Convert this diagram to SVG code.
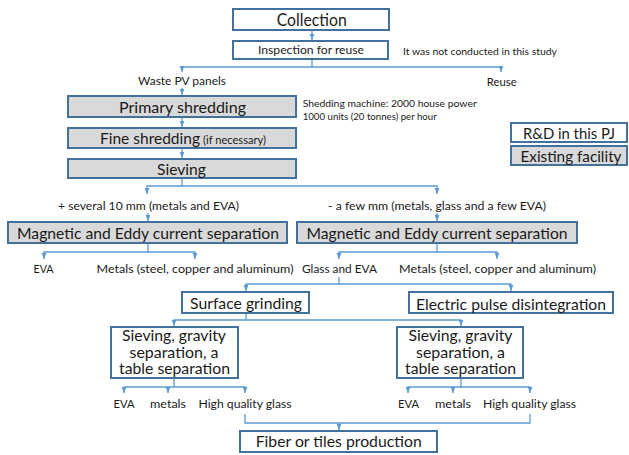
<svg xmlns="http://www.w3.org/2000/svg" width="629" height="455" viewBox="0 0 629 455">
<defs>
<style>
.b{fill:#ffffff;stroke:#41719C;stroke-width:2}
.g{fill:#D9D9D9;stroke:#41719C;stroke-width:2}
.c{fill:none;stroke:#5B9BD5;stroke-width:1.3}
.ca{fill:none;stroke:#5B9BD5;stroke-width:1.3;marker-end:url(#ah)}
text{font-family:Lato,"Open Sans","Liberation Sans",sans-serif;fill:#1a1a1a}
.m{text-anchor:middle}
.big{font-size:16px}
.ml{font-size:15.2px}
.lab{font-size:12px}
.sm{font-size:10.3px}
</style>
<marker id="ah" markerUnits="userSpaceOnUse" markerWidth="6" markerHeight="6" viewBox="0 0 6 6" refX="6" refY="3" orient="auto">
<path d="M0,0.6 L6,3 L0,5.4 z" fill="#5B9BD5"/>
</marker>
</defs>
<rect width="629" height="455" fill="#ffffff"/>

<g id="connectors">
<path class="ca" d="M312,30 V40"/>
<path class="c" d="M312,60 V67"/>
<path class="ca" d="M312,67 H182 V72"/>
<path class="ca" d="M312,67 H501 V72"/>
<path class="ca" d="M182,88 V95"/>
<path class="ca" d="M182,118 V127"/>
<path class="ca" d="M182,149 V158"/>
<path class="ca" d="M182,179 V186 H147 V194"/>
<path class="ca" d="M182,186 H437 V194"/>
<path class="ca" d="M148,213 V221"/>
<path class="ca" d="M437,213 V221"/>
<path class="ca" d="M148,244 V252 H44 V259"/>
<path class="ca" d="M148,252 H195 V259"/>
<path class="ca" d="M437,244 V252 H339 V259"/>
<path class="ca" d="M437,252 H497 V259"/>
<path class="ca" d="M339,277 V284 H246 V291"/>
<path class="ca" d="M339,284 H511 V291"/>
<path class="ca" d="M246,314 V320 H174 V326"/>
<path class="ca" d="M246,320 H461 V326"/>
<path class="ca" d="M174,379 V387 H124 V393"/>
<path class="ca" d="M174,387 H245 V393"/>
<path class="ca" d="M168,387 V393"/>
<path class="ca" d="M461,379 V387 H408 V393"/>
<path class="ca" d="M461,387 H530 V393"/>
<path class="ca" d="M453,387 V393"/>
<path class="c" d="M245,414 V423 H530 V414"/>
<path class="ca" d="M339,423 V430"/>
</g>

<g id="collection">
<rect class="b" x="233" y="9" width="156" height="21"/>
<text class="m" x="311.7" y="26" font-size="16.8" textLength="70" lengthAdjust="spacingAndGlyphs">Collection</text>
</g>
<g id="inspection">
<rect class="b" x="233" y="41" width="155" height="18"/>
<text class="m" x="311" y="54" font-size="12.3" textLength="106" lengthAdjust="spacingAndGlyphs">Inspection for reuse</text>
</g>
<g id="note-not-conducted">
<text class="sm" x="403" y="55" textLength="154" lengthAdjust="spacingAndGlyphs">It was not conducted in this study</text>
</g>
<g id="waste-pv">
<text class="lab m" x="182" y="85" textLength="88" lengthAdjust="spacingAndGlyphs">Waste PV panels</text>
</g>
<g id="reuse">
<text class="lab m" x="501.7" y="85.5" textLength="30" lengthAdjust="spacingAndGlyphs">Reuse</text>
</g>
<g id="primary-shredding">
<rect class="g" x="68" y="96" width="228" height="21"/>
<text class="big m" x="182.5" y="112.5" textLength="127" lengthAdjust="spacingAndGlyphs">Primary shredding</text>
</g>
<g id="shredding-note">
<text class="sm" x="302.7" y="107" textLength="174" lengthAdjust="spacingAndGlyphs">Shedding machine: 2000 house power</text>
<text class="sm" x="302.7" y="119.5" textLength="134" lengthAdjust="spacingAndGlyphs">1000 units (20 tonnes) per hour</text>
</g>
<g id="fine-shredding">
<rect class="g" x="68" y="128" width="228" height="20"/>
<text y="143.5"><tspan class="big" x="100" textLength="100" lengthAdjust="spacingAndGlyphs">Fine shredding</tspan><tspan x="203" font-size="11" textLength="63" lengthAdjust="spacingAndGlyphs">(if necessary)</tspan></text>
</g>
<g id="sieving">
<rect class="g" x="68" y="159" width="228" height="19"/>
<text class="big m" x="181.5" y="174.5" textLength="49" lengthAdjust="spacingAndGlyphs">Sieving</text>
</g>
<g id="legend-rd">
<rect class="b" x="511" y="123" width="116" height="19"/>
<text class="m" x="569" y="139" font-size="15.2" textLength="92" lengthAdjust="spacingAndGlyphs">R&amp;D in this PJ</text>
</g>
<g id="legend-existing">
<rect class="g" x="511" y="146" width="116" height="19"/>
<text class="m" x="571" y="161.5" font-size="15.2" textLength="101" lengthAdjust="spacingAndGlyphs">Existing facility</text>
</g>
<g id="coarse-fraction">
<text class="lab m" x="148.5" y="210" textLength="181" lengthAdjust="spacingAndGlyphs">+ several 10 mm (metals and EVA)</text>
</g>
<g id="fine-fraction">
<text class="lab m" x="437" y="210" textLength="218" lengthAdjust="spacingAndGlyphs">- a few mm (metals, glass and a few EVA)</text>
</g>
<g id="mag-left">
<rect class="g" x="8" y="222" width="279" height="21"/>
<text class="big m" x="148" y="238.5" textLength="262" lengthAdjust="spacingAndGlyphs">Magnetic and Eddy current separation</text>
</g>
<g id="mag-right">
<rect class="g" x="297" y="222" width="280" height="21"/>
<text class="big m" x="437" y="238.5" textLength="261" lengthAdjust="spacingAndGlyphs">Magnetic and Eddy current separation</text>
</g>
<g id="eva-1">
<text class="lab m" x="43.5" y="273" textLength="20" lengthAdjust="spacingAndGlyphs">EVA</text>
</g>
<g id="metals-1">
<text class="lab m" x="195" y="273" textLength="197" lengthAdjust="spacingAndGlyphs">Metals (steel, copper and aluminum)</text>
</g>
<g id="glass-eva">
<text class="lab m" x="339.5" y="273" textLength="75" lengthAdjust="spacingAndGlyphs">Glass and EVA</text>
</g>
<g id="metals-2">
<text class="lab m" x="497.5" y="273" textLength="197" lengthAdjust="spacingAndGlyphs">Metals (steel, copper and aluminum)</text>
</g>
<g id="surface-grinding">
<rect class="b" x="182" y="292" width="127" height="21"/>
<text class="big m" x="246" y="309" textLength="112" lengthAdjust="spacingAndGlyphs">Surface grinding</text>
</g>
<g id="electric-pulse">
<rect class="b" x="409" y="292" width="204" height="21"/>
<text class="big m" x="511" y="309.5" textLength="190" lengthAdjust="spacingAndGlyphs">Electric pulse disintegration</text>
</g>
<g id="sieving-left">
<rect class="b" x="111" y="327" width="127" height="51"/>
<text class="ml m"><tspan x="174" y="341" textLength="104" lengthAdjust="spacingAndGlyphs">Sieving, gravity</tspan><tspan x="174" y="357.5" textLength="89" lengthAdjust="spacingAndGlyphs">separation, a</tspan><tspan x="174.5" y="374" textLength="111" lengthAdjust="spacingAndGlyphs">table separation</tspan></text>
</g>
<g id="sieving-right">
<rect class="b" x="397" y="327" width="126" height="51"/>
<text class="ml m"><tspan x="460.5" y="341" textLength="104" lengthAdjust="spacingAndGlyphs">Sieving, gravity</tspan><tspan x="460.5" y="357.5" textLength="89" lengthAdjust="spacingAndGlyphs">separation, a</tspan><tspan x="460.5" y="374" textLength="111" lengthAdjust="spacingAndGlyphs">table separation</tspan></text>
</g>
<g id="eva-2">
<text class="lab m" x="124" y="408" textLength="21" lengthAdjust="spacingAndGlyphs">EVA</text>
</g>
<g id="metals-3">
<text class="lab m" x="168" y="408" textLength="36" lengthAdjust="spacingAndGlyphs">metals</text>
</g>
<g id="hq-glass-1">
<text class="lab m" x="245" y="408" textLength="93" lengthAdjust="spacingAndGlyphs">High quality glass</text>
</g>
<g id="eva-3">
<text class="lab m" x="408.5" y="408" textLength="21" lengthAdjust="spacingAndGlyphs">EVA</text>
</g>
<g id="metals-4">
<text class="lab m" x="453" y="408" textLength="36" lengthAdjust="spacingAndGlyphs">metals</text>
</g>
<g id="hq-glass-2">
<text class="lab m" x="529.5" y="408" textLength="93" lengthAdjust="spacingAndGlyphs">High quality glass</text>
</g>
<g id="fiber-tiles">
<rect class="b" x="240" y="431" width="197" height="21"/>
<text class="big m" x="338.7" y="447" textLength="166" lengthAdjust="spacingAndGlyphs">Fiber or tiles production</text>
</g>
</svg>
